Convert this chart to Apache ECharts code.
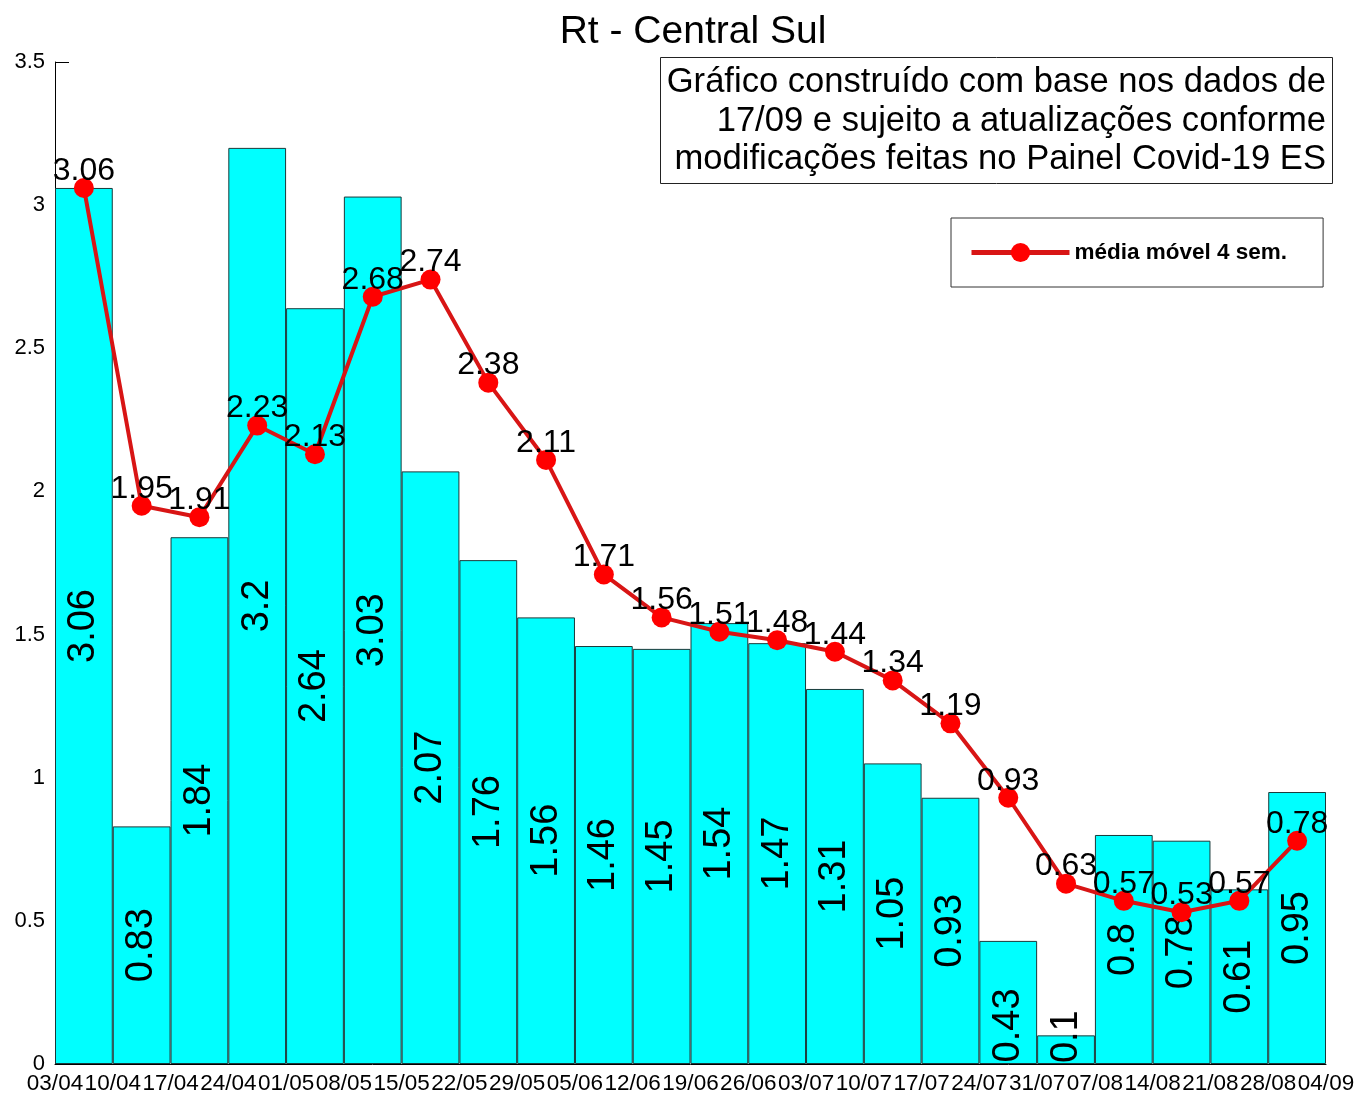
<!DOCTYPE html>
<html>
<head>
<meta charset="utf-8">
<script src="https://cdn.jsdelivr.net/npm/echarts@6/dist/echarts.min.js"></script>
<style>html,body{margin:0;padding:0;background:#fff;}#c{width:1360px;height:1100px;}</style>
</head>
<body>
<div id="c"></div>
<script>
const dateLabels = ['03/04','10/04','17/04','24/04','01/05','08/05','15/05','22/05','29/05','05/06','12/06','19/06','26/06','03/07','10/07','17/07','24/07','31/07','07/08','14/08','21/08','28/08','04/09'];
const weeks = ['w1','w2','w3','w4','w5','w6','w7','w8','w9','w10','w11','w12','w13','w14','w15','w16','w17','w18','w19','w20','w21','w22'];
const rtValues = [3.06,0.83,1.84,3.2,2.64,3.03,2.07,1.76,1.56,1.46,1.45,1.54,1.47,1.31,1.05,0.93,0.43,0.1,0.8,0.78,0.61,0.95];
const movingAvg = [3.06,1.95,1.91,2.23,2.13,2.68,2.74,2.38,2.11,1.71,1.56,1.51,1.48,1.44,1.34,1.19,0.93,0.63,0.57,0.53,0.57,0.78];
const yTicks = {min:0, max:3.5, interval:0.5};

const chart = echarts.init(document.getElementById('c'));
const font = 'Liberation Sans, Arial, sans-serif';
const barData = rtValues.map(v => {
  if (v < 0.5) return {value: v, label: {offset: [v < 0.2 ? 13 : -23, 0]}};
  return v;
});
chart.setOption({
  backgroundColor: '#fff',
  animation: false,
  title: {
    text: 'Rt - Central Sul', left: 688, textAlign: 'center', top: 8,
    textStyle: {fontFamily: font, fontSize: 39, fontWeight: 'normal', color: '#000'}
  },
  legend: {
    left: 951, top: 218,
    data: ['média móvel 4 sem.'],
    borderColor: '#333', borderWidth: 1,
    padding: [23, 36, 23, 18],
    itemWidth: 98, itemHeight: 24, itemGap: 10,
    lineStyle: {width: 5},
    textStyle: {fontFamily: font, fontSize: 22.5, fontWeight: 'bold', color: '#000'}
  },
  graphic: [
    {type: 'rect', shape: {x: 660.5, y: 57.5, width: 672, height: 126}, style: {fill: '#fff', stroke: '#222', lineWidth: 1}, z: 100},
    {type: 'text', x: 1326, y: 82, style: {text: 'Gráfico construído com base nos dados de', align: 'right', verticalAlign: 'middle', font: '34.6px ' + font, fill: '#000'}, z: 101},
    {type: 'text', x: 1326, y: 121, style: {text: '17/09 e sujeito a atualizações conforme', align: 'right', verticalAlign: 'middle', font: '34.6px ' + font, fill: '#000'}, z: 101},
    {type: 'text', x: 1326, y: 159, style: {text: 'modificações feitas no Painel Covid-19 ES', align: 'right', verticalAlign: 'middle', font: '34.6px ' + font, fill: '#000'}, z: 101}
  ],
  grid: {left: 55, right: 34, top: 62, bottom: 36},
  xAxis: [
    {type: 'category', data: weeks, boundaryGap: true,
     axisLine: {show: false}, axisTick: {show: false}, axisLabel: {show: false}, splitLine: {show: false}},
    {type: 'value', min: 0, max: 22, interval: 1, position: 'bottom',
     axisLine: {show: true, onZero: false, lineStyle: {color: '#000', width: 1}},
     axisTick: {show: false}, splitLine: {show: false},
     axisLabel: {show: true, margin: 8, showMinLabel: true, showMaxLabel: true, hideOverlap: false,
       formatter: v => dateLabels[Math.round(v)], fontFamily: font, fontSize: 22.5, color: '#000'}}
  ],
  yAxis: {
    type: 'value', min: yTicks.min, max: yTicks.max, interval: yTicks.interval,
    axisLine: {show: true, lineStyle: {color: '#000', width: 1}},
    axisTick: {show: true, inside: true, length: 14, lineStyle: {color: '#000'}},
    splitLine: {show: false},
    axisLabel: {fontFamily: font, fontSize: 22, color: '#000', margin: 10}
  },
  series: [
    {type: 'bar', name: 'Rt', xAxisIndex: 0, data: barData, barCategoryGap: '0%',
     itemStyle: {color: '#00FFFF', borderColor: '#1a3a3a', borderWidth: 1},
     label: {show: true, position: 'inside', rotate: 90, fontFamily: font, fontSize: 38, color: '#000'},
     z: 2},
    {type: 'line', name: 'média móvel 4 sem.', xAxisIndex: 0, data: movingAvg,
     symbol: 'circle', symbolSize: 20,
     lineStyle: {color: '#d81515', width: 4},
     itemStyle: {color: '#f00'},
     label: {show: true, position: 'top', distance: -9, fontFamily: font, fontSize: 32, color: '#000'},
     z: 3}
  ]
});
</script>
</body>
</html>
